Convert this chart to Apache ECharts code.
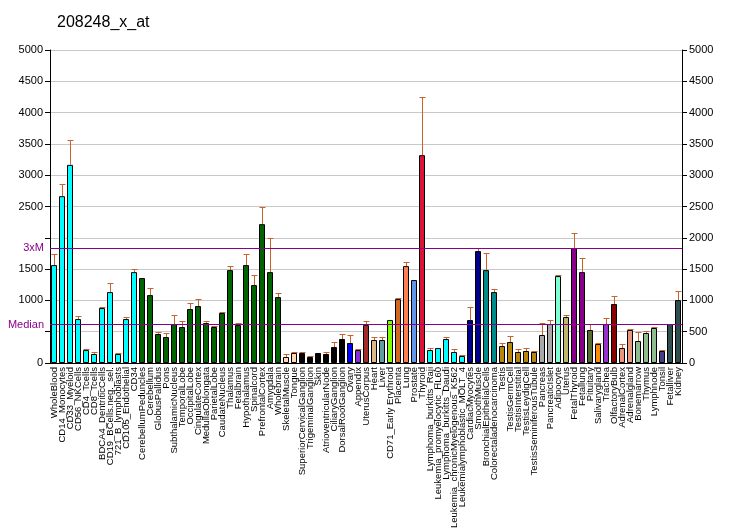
<!DOCTYPE html>
<html><head><meta charset="utf-8">
<script src="https://cdn.jsdelivr.net/npm/echarts@6/dist/echarts.min.js"></script>
<style>html,body{margin:0;padding:0;background:#fff;overflow:hidden}#c{width:732px;height:530px}</style>
</head><body><div id="c"></div>
<script>
const categories = ["WholeBlood","CD14_Monocytes","CD33_Myeloid","CD56_NKCells","CD4_Tcells","CD8_Tcells","BDCA4_DentriticCells","CD19_BCells.neg._sel.","721_B_lymphoblasts","CD105_Endothelial","CD34","CerebellumPeduncles","Cerebellum","GlobusPallidus","Pons","SubthalamicNucleus","TemporalLobe","OccipitalLobe","CingulateCortex","MedullaOblongata","ParietalLobe","CaudateNucleus","Thalamus","Fetalbrain","Hypothalamus","Spinalcord","PrefrontalCortex","Amygdala","Wholebrain","SkeletalMuscle","Tongue","SuperiorCervicalGanglion","TrigeminalGanglion","Skin","AtrioventricularNode","CiliaryGanglion","DorsalRootGanglion","Ovary","Appendix","UterusCorpus","Heart","Liver","CD71_Early Erythroid","Placenta","Lung","Prostate","Thyroid","Lymphoma_burkitts_Raji","Leukemia_promyelocytic_HL60","Lymphoma_burkitts_Daudi","Leukemia_chronicMyelogenous_K562","Leukemialymphoblastic_MOLT_4","CardiacMyocytes","SmoothMuscle","BronchialEpithelialCells","Colorectaladenocarcinoma","Testis","TestisGermCell","TestisInterstitial","TestisLeydigCell","TestisSeminiferousTubule","Pancreas","PancreaticIslet","Adipocyte","Uterus","FetalThyroid","Fetallung","Pituitary","Salivarygland","Trachea","OlfactoryBulb","AdrenalCortex","Adrenalgland","Bonemarrow","Thymus","Lymphnode","Tonsil","Fetalliver","Kidney"];
const values = [1564,2665,3165,702,207,144,878,1133,144,702,1452,1357,1085,463,415,622,575,862,910,638,575,798,1484,606,1564,1245,2218,1452,1053,96,160,160,96,160,144,255,383,319,207,606,367,367,686,1021,1548,1325,3320,207,239,383,176,112,686,1788,1484,1133,271,335,176,192,176,447,622,1389,734,1835,1452,527,303,622,942,239,527,351,479,559,192,622,1005];
const errorTops = [1740,2857,3564,750,223,176,894,1277,160,730,1500,1357,1197,495,479,766,670,958,1021,670,586,814,1548,638,1740,1404,2490,1995,1117,144,176,176,112,160,176,335,463,447,223,670,415,415,686,1037,1612,1325,4250,239,239,415,223,128,894,1835,1756,1181,319,431,223,239,192,638,686,1404,766,2075,1676,622,319,718,1069,303,543,495,511,575,207,622,1149];
const colors = ["#00FFFF","#00FFFF","#00FFFF","#00FFFF","#00FFFF","#00FFFF","#00FFFF","#00FFFF","#00FFFF","#00FFFF","#00FFFF",
"#006400","#006400","#006400","#006400","#006400","#006400","#006400","#006400","#006400","#006400","#006400","#006400","#006400","#006400","#006400","#006400","#006400","#006400",
"#FFDAB9","#FFDAB9","#000000","#000000","#000000","#000000","#000000","#000000",
"#0000FF","#8A2BE2","#A52A2A","#DEB887","#5F9EA0","#7FFF00","#D2691E","#FF7F50","#6495ED","#DC143C",
"#00FFFF","#00FFFF","#00FFFF","#00FFFF","#00FFFF","#00008B","#00008B","#008B8B","#008B8B",
"#B8860B","#B8860B","#B8860B","#B8860B","#B8860B","#A9A9A9","#A9A9A9","#7FFFD4","#BDB76B","#8B008B","#8B008B",
"#556B2F","#FF8C00","#9932CC","#8B0000","#E9967A","#E9967A","#8FBC8F","#8FBC8F","#8FBC8F","#483D8B","#2F4F4F","#2F4F4F"];
const medianValue = 612;
const threeXM = 1836;
const yTicks = [0,500,1000,1500,2000,2500,3000,3500,4000,4500,5000];

const chart = echarts.init(document.getElementById('c'), null, {renderer:'canvas', width:732, height:530});
const font = 'Liberation Sans, Arial, sans-serif';
const yBase = {
  type:'value', min:yTicks[0], max:yTicks[yTicks.length-1], interval:yTicks[1]-yTicks[0],
  axisLine:{show:true, lineStyle:{color:'#000', width:1}},
  axisTick:{show:true, length:5, lineStyle:{color:'#000'}},
  axisLabel:{color:'#000', fontSize:11, fontFamily:font, margin:7}
};
chart.setOption({
  animation:false,
  title:{text:'208248_x_at', left:52, top:10, textStyle:{fontSize:16, fontWeight:'normal', fontFamily:font, color:'#000'}},
  grid:{left:50, top:50, width:632, height:313, containLabel:false, outerBoundsMode:'none'},
  xAxis:{type:'category', data:categories,
    axisLine:{lineStyle:{color:'#000'}},
    axisTick:{alignWithLabel:true, interval:0, length:4, lineStyle:{color:'#000'}},
    axisLabel:{rotate:90, interval:0, fontSize:9.5, fontFamily:font, color:'#000', margin:4}},
  yAxis:[
    Object.assign({}, yBase, {position:'left',
      splitLine:{show:true, lineStyle:{color:'#C8C8C8', width:1}},
      axisLabel:Object.assign({}, yBase.axisLabel, {formatter:v => (v===500||v===2000)?'':String(v)})}),
    Object.assign({}, yBase, {position:'right', splitLine:{show:false},
      axisLabel:Object.assign({}, yBase.axisLabel, {formatter:v => String(v)})})
  ],
  series:[
    {type:'bar', data:values.map((v,i)=>({value:v, itemStyle:{color:colors[i]}})),
     barWidth:6, itemStyle:{borderColor:'#000', borderWidth:1},
     markLine:{silent:true, symbol:'none', animation:false,
       lineStyle:{color:'#8B008B', width:1, type:'solid'},
       label:{position:'start', color:'#8B008B', fontSize:11, fontFamily:font, distance:6},
       data:[{yAxis:threeXM, label:{formatter:'3xM'}},{yAxis:medianValue, label:{formatter:'Median'}}]},
     z:2},
    {type:'custom', z:3,
     data:values.map((v,i)=>[i, v, errorTops[i]]),
     renderItem:function(params, api){
       const i = api.value(0), v = api.value(1), e = api.value(2);
       if (e <= v) return null;
       const p0 = api.coord([i, v]); const p1 = api.coord([i, e]);
       const x = Math.round(p0[0]) + 0.5;
       const yTop = Math.round(p1[1]) + 0.5;
       const st = {stroke:'#C8642A', lineWidth:1};
       return {type:'group', children:[
         {type:'line', shape:{x1:x, y1:p0[1], x2:x, y2:yTop}, style:st},
         {type:'line', shape:{x1:x-3, y1:yTop, x2:x+3, y2:yTop}, style:st}
       ]};
     }}
  ]
});
</script></body></html>
